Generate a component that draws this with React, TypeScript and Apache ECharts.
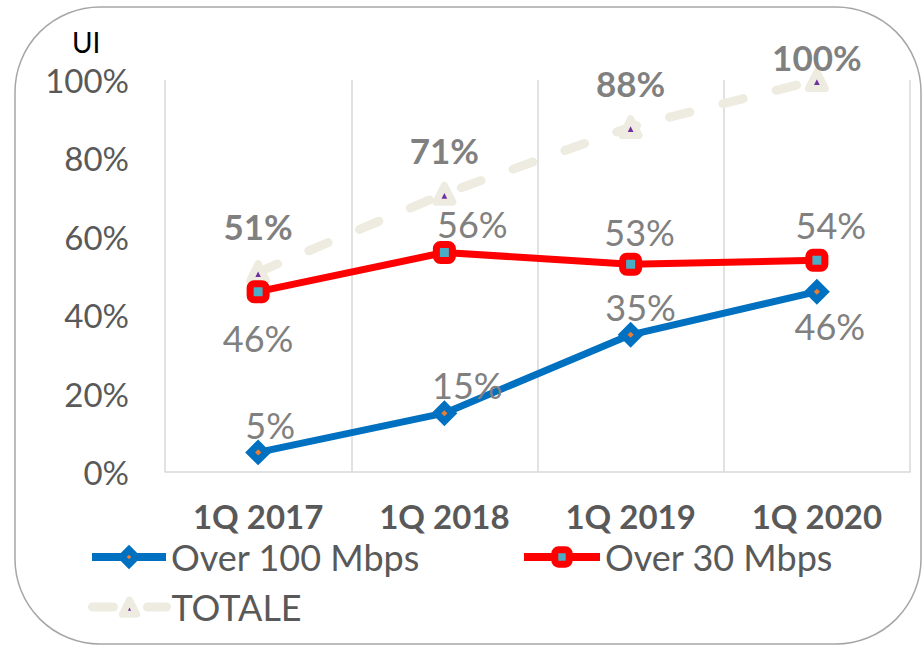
import React, { useEffect, useRef } from "react";
import * as echarts from "echarts";

const categories = ["1Q 2017", "1Q 2018", "1Q 2019", "1Q 2020"];
const over100 = [5, 15, 35, 46];
const over30 = [46, 56, 53, 54];
const totale = [51, 71, 88, 100];
const yTicks = [0, 20, 40, 60, 80, 100];

const over100Offsets = [[12, -27], [23, -28], [10, -28], [13, 34]];
const over30Offsets = [[0, 46], [28, -28], [9, -32], [14, -35]];
const totaleOffsets = [[0, -46], [0, -44], [0, -44], [0, -23]];

const FONT = "Lato, 'Open Sans', 'DejaVu Sans', sans-serif";

export default function App() {
  const ref = useRef<HTMLDivElement>(null);
  useEffect(() => {
    if (!ref.current) return;
    const chart = echarts.init(ref.current, null, { renderer: "svg" });
    const mk = (vals: number[], offs: number[][]) =>
      vals.map((v, i) => ({ value: v, label: { offset: offs[i] } }));
    const legendText = { fontSize: 36, color: "#595959", fontFamily: FONT };
    chart.setOption({
      animation: false,
      backgroundColor: "#ffffff",
      textStyle: { fontFamily: FONT },
      grid: { left: 165, right: 12, top: 80, bottom: 173 },
      graphic: [
        {
          type: "rect",
          shape: { x: 15, y: 7, width: 906, height: 637, r: 85 },
          style: { fill: "none", stroke: "#A6A6A6", lineWidth: 1.5 },
          silent: true,
          z: -10,
        },
        {
          type: "text",
          left: 72,
          top: 28,
          style: { text: "UI", fontSize: 28, fontFamily: FONT, fill: "#000000" },
        },
      ],
      legend: [
        {
          left: 88,
          top: 539,
          padding: 0,
          data: ["Over 100 Mbps"],
          itemWidth: 74,
          itemHeight: 18,
          textStyle: legendText,
          lineStyle: { width: 8, color: "#0070C0" },
          itemStyle: { color: "#ED7D31", borderColor: "#0070C0", borderWidth: 7 },
        },
        {
          left: 520,
          top: 539,
          padding: 0,
          data: ["Over 30 Mbps"],
          itemWidth: 76,
          itemHeight: 18,
          textStyle: legendText,
          lineStyle: { width: 8, color: "#FF0000" },
          itemStyle: { color: "#4BACC6", borderColor: "#FF0000", borderWidth: 7 },
        },
        {
          left: 88,
          top: 589,
          padding: 0,
          data: ["TOTALE"],
          itemWidth: 74,
          itemHeight: 18,
          textStyle: legendText,
          lineStyle: { width: 9, color: "#EEECE1", type: [21, 34], cap: "round" },
          itemStyle: {
            color: "#7030A0",
            borderColor: "#EEECE1",
            borderWidth: 7,
            borderJoin: "round",
          },
        },
      ],
      xAxis: {
        type: "category",
        data: categories,
        boundaryGap: true,
        axisLine: { lineStyle: { color: "#D9D9D9", width: 1.5 } },
        axisTick: { show: false },
        splitLine: { show: true, lineStyle: { color: "#D9D9D9", width: 1.5 } },
        axisLabel: {
          margin: 27,
          fontSize: 33,
          fontWeight: "bold",
          color: "#595959",
          fontFamily: FONT,
        },
      },
      yAxis: {
        type: "value",
        min: yTicks[0],
        max: yTicks[yTicks.length - 1],
        interval: 20,
        axisLine: { show: false },
        axisTick: { show: false },
        splitLine: { show: false },
        axisLabel: {
          margin: 36,
          fontSize: 33,
          color: "#595959",
          fontFamily: FONT,
          formatter: "{value}%",
        },
      },
      series: [
        {
          name: "TOTALE",
          type: "line",
          data: mk(totale, totaleOffsets),
          symbol: "triangle",
          symbolSize: 17,
          itemStyle: {
            color: "#7030A0",
            borderColor: "#EEECE1",
            borderWidth: 7,
            borderJoin: "round",
          },
          lineStyle: { color: "#EEECE1", width: 9, type: [21, 34], cap: "round" },
          label: {
            show: true,
            position: "inside",
            formatter: "{c}%",
            fontSize: 35,
            fontWeight: "bold",
            color: "#808080",
            fontFamily: FONT,
          },
          z: 2,
        },
        {
          name: "Over 30 Mbps",
          type: "line",
          data: mk(over30, over30Offsets),
          symbol: "roundRect",
          symbolSize: 16,
          itemStyle: { color: "#4BACC6", borderColor: "#FF0000", borderWidth: 7 },
          lineStyle: { color: "#FF0000", width: 7 },
          label: {
            show: true,
            position: "inside",
            formatter: "{c}%",
            fontSize: 36,
            color: "#808080",
            fontFamily: FONT,
          },
          z: 3,
        },
        {
          name: "Over 100 Mbps",
          type: "line",
          data: mk(over100, over100Offsets),
          symbol: "diamond",
          symbolSize: 16,
          itemStyle: { color: "#ED7D31", borderColor: "#0070C0", borderWidth: 7 },
          lineStyle: { color: "#0070C0", width: 7 },
          label: {
            show: true,
            position: "inside",
            formatter: "{c}%",
            fontSize: 36,
            color: "#808080",
            fontFamily: FONT,
          },
          z: 4,
        },
      ],
    });
    return () => chart.dispose();
  }, []);
  return (
    <div
      ref={ref}
      style={{ position: "absolute", left: 0, top: 0, width: 922, height: 645 }}
    />
  );
}
